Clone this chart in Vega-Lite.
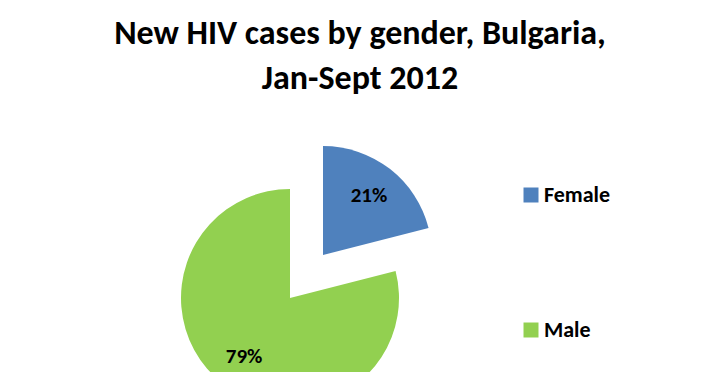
{
  "$schema": "https://vega.github.io/schema/vega-lite/v6.json",
  "autosize": "none",
  "width": 400,
  "height": 400,
  "padding": {"left": 90, "top": 98, "right": 214, "bottom": 0},
  "background": "white",
  "title": {
    "text": ["New HIV cases by gender, Bulgaria,", "Jan-Sept 2012"],
    "font": "Carlito, Lato",
    "fontSize": 34,
    "fontWeight": "bold",
    "color": "#000000",
    "anchor": "middle",
    "frame": "group",
    "dx": 70,
    "lineHeight": 45,
    "offset": 2
  },
  "data": {
    "values": [
      {"gender": "Female", "share": 0.21},
      {"gender": "Male", "share": 0.79}
    ]
  },
  "encoding": {
    "theta": {"field": "share", "type": "quantitative", "stack": true},
    "color": {
      "field": "gender",
      "type": "nominal",
      "scale": {"domain": ["Female", "Male"], "range": ["#4F81BD", "#92D050"]},
      "legend": {
        "title": null,
        "orient": "none",
        "legendX": 430,
        "legendY": 86,
        "symbolType": "square",
        "symbolSize": 225,
        "symbolStrokeWidth": 0,
        "labelFont": "Carlito, Lato",
        "labelFontSize": 22,
        "labelFontWeight": "bold",
        "labelColor": "#000000",
        "labelOffset": 2,
        "rowPadding": 113
      }
    }
  },
  "layer": [
    {
      "mark": {
        "type": "arc",
        "radius": 109,
        "xOffset": {"expr": "datum.gender === 'Female' ? 33 : 0"},
        "yOffset": {"expr": "datum.gender === 'Female' ? -43 : 0"}
      }
    },
    {
      "mark": {
        "type": "text",
        "radius": 75,
        "font": "Carlito, Lato",
        "fontSize": 21,
        "fontWeight": "bold",
        "color": "#000000",
        "xOffset": {"expr": "datum.gender === 'Female' ? 33 : 0"},
        "yOffset": {"expr": "datum.gender === 'Female' ? -43 : 0"}
      },
      "encoding": {
        "text": {"field": "share", "type": "quantitative", "format": ".0%"},
        "color": {"value": "#000000"}
      }
    }
  ]
}
